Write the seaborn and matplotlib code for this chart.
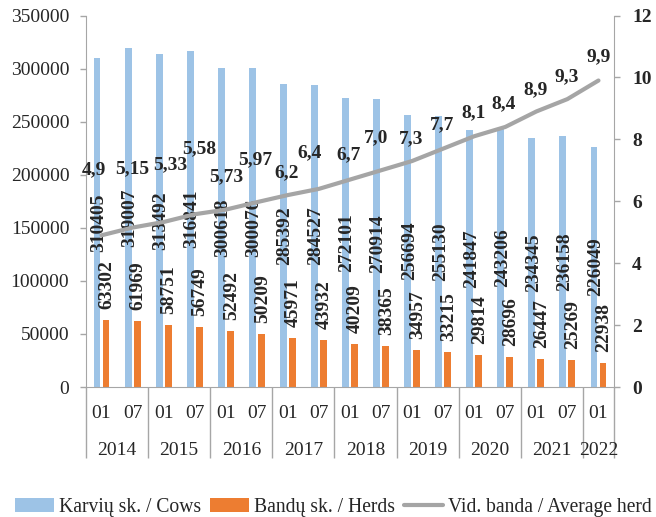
import numpy as np
import pandas as pd
import matplotlib
matplotlib.use("Agg")
import matplotlib.pyplot as plt
import matplotlib.transforms as mtransforms
import seaborn as sns

# data
years = ["2014", "2014", "2015", "2015", "2016", "2016", "2017", "2017", "2018",
         "2018", "2019", "2019", "2020", "2020", "2021", "2021", "2022"]
months = ["01", "07"] * 8 + ["01"]
cows = [310405, 319007, 313492, 316841, 300618, 300076, 285392, 284527, 272101,
        270914, 256694, 255130, 241847, 243206, 234345, 236158, 226049]
herds = [63302, 61969, 58751, 56749, 52492, 50209, 45971, 43932, 40209,
         38365, 34957, 33215, 29814, 28696, 26447, 25269, 22938]
avg_herd = [4.9, 5.15, 5.33, 5.58, 5.73, 5.97, 6.2, 6.4, 6.7, 7.0, 7.3, 7.7,
            8.1, 8.4, 8.9, 9.3, 9.9]
avg_labels = ["4,9", "5,15", "5,33", "5,58", "5,73", "5,97", "6,2", "6,4", "6,7",
              "7,0", "7,3", "7,7", "8,1", "8,4", "8,9", "9,3", "9,9"]
cow_name = "Karvių sk. / Cows"
herd_name = "Bandų sk. / Herds"
avg_name = "Vid. banda / Average herd"

# hand placed label offsets (pixels) for the average herd labels
avg_offsets = [(-8, 66), (0, 59), (7, 57), (5, 66), (0, 33), (-2, 42), (-1, 22),
               (-9, 36), (-1, 25), (-5, 33), (-1, 22), (-1, 24), (-1, 24),
               (-2, 23), (-1, 22), (-1, 22), (0, 24)]

sns.set_style("white")
plt.rcParams['font.family'] = ['Liberation Serif', 'DejaVu Serif']
FS = 14
axis_grey = '#A6A6A6'

periods = [f"{y}-{m}" for y, m in zip(years, months)]
df = pd.DataFrame({
    'period': periods * 2,
    'series': [cow_name] * len(cows) + [herd_name] * len(herds),
    'value': cows + herds,
})
n = len(periods)

fig = plt.figure(figsize=(6.56, 5.17), dpi=100)
ax = fig.add_axes([86 / 656, 1 - 387 / 517, (614 - 86) / 656, (387 - 15.5) / 517])

sns.barplot(data=df, x='period', y='value', hue='series',
            palette=['#9DC3E6', '#ED7D31'], saturation=1, width=0.58, gap=0.24,
            ax=ax, legend=False, errorbar=None, edgecolor='none')

ax2 = ax.twinx()
sns.lineplot(x=np.arange(n), y=avg_herd, ax=ax2, color='#A5A5A5', linewidth=3,
             label=avg_name, legend=False)

ax.set_xlim(-0.5, n - 0.5)
ax.set_ylim(0, 350000)
ax2.set_ylim(0, 12)
ax.set_yticks(np.arange(0, 350001, 50000))
ax2.set_yticks(np.arange(0, 13, 2))
ax.set_xlabel('')
ax.set_ylabel('')
ax2.set_ylabel('')

# month labels and year separators
ax.set_xticks(np.arange(n))
ax.set_xticklabels(months, fontsize=FS)
bounds = [-0.5] + [i + 0.5 for i in range(n - 1) if years[i] != years[i + 1]] + [n - 0.5]
ax.set_xticks(bounds, minor=True)
ax.tick_params(axis='x', which='major', bottom=True, length=0, pad=13)
ax.tick_params(axis='x', which='minor', bottom=True, length=51, width=1,
               color=axis_grey)
trans = mtransforms.blended_transform_factory(ax.transData, ax.transAxes)
for a, b in zip(bounds[:-1], bounds[1:]):
    ax.text((a + b) / 2, -0.17, years[int(a + 0.5)], transform=trans,
            ha='center', va='center', fontsize=FS)

ax.tick_params(axis='y', left=True, labelsize=FS, length=4, width=1,
               color=axis_grey, pad=8)
ax2.tick_params(axis='y', right=True, labelsize=FS, length=4, width=1,
                color=axis_grey, pad=9)
for t in ax2.get_yticklabels():
    t.set_fontweight('bold')

for a in (ax, ax2):
    a.spines['top'].set_visible(False)
    for s in ('left', 'right', 'bottom'):
        a.spines[s].set_color(axis_grey)
ax.spines['right'].set_visible(False)
ax2.spines['left'].set_visible(False)
ax2.spines['bottom'].set_visible(False)

# value labels
cow_bars, herd_bars = ax.containers[0], ax.containers[1]
for bar, v in zip(cow_bars, cows):
    ax.text(bar.get_x() + bar.get_width() / 2 + 0.05, v / 2, str(v), rotation=90,
            ha='center', va='center', fontsize=FS, fontweight='bold')
for bar, v in zip(herd_bars, herds):
    ax.annotate(str(v), (bar.get_x() + bar.get_width() / 2 + 0.03, v),
                xytext=(0, 11), textcoords='offset pixels', rotation=90,
                ha='center', va='bottom', fontsize=FS, fontweight='bold')
for i, (v, lab, off) in enumerate(zip(avg_herd, avg_labels, avg_offsets)):
    ax2.annotate(lab, (i, v), xytext=off, textcoords='offset pixels',
                 ha='center', va='center', fontsize=FS, fontweight='bold')

handles = [cow_bars.patches[0], herd_bars.patches[0], ax2.get_lines()[0]]
fig.legend(handles, [cow_name, herd_name, avg_name], loc='center',
           bbox_to_anchor=(0.508, 0.019), ncol=3, frameon=False, fontsize=14.1,
           handlelength=2.0, handletextpad=0.25, columnspacing=0.45,
           borderaxespad=0, borderpad=0)

fig.savefig('out.png', dpi=100)
